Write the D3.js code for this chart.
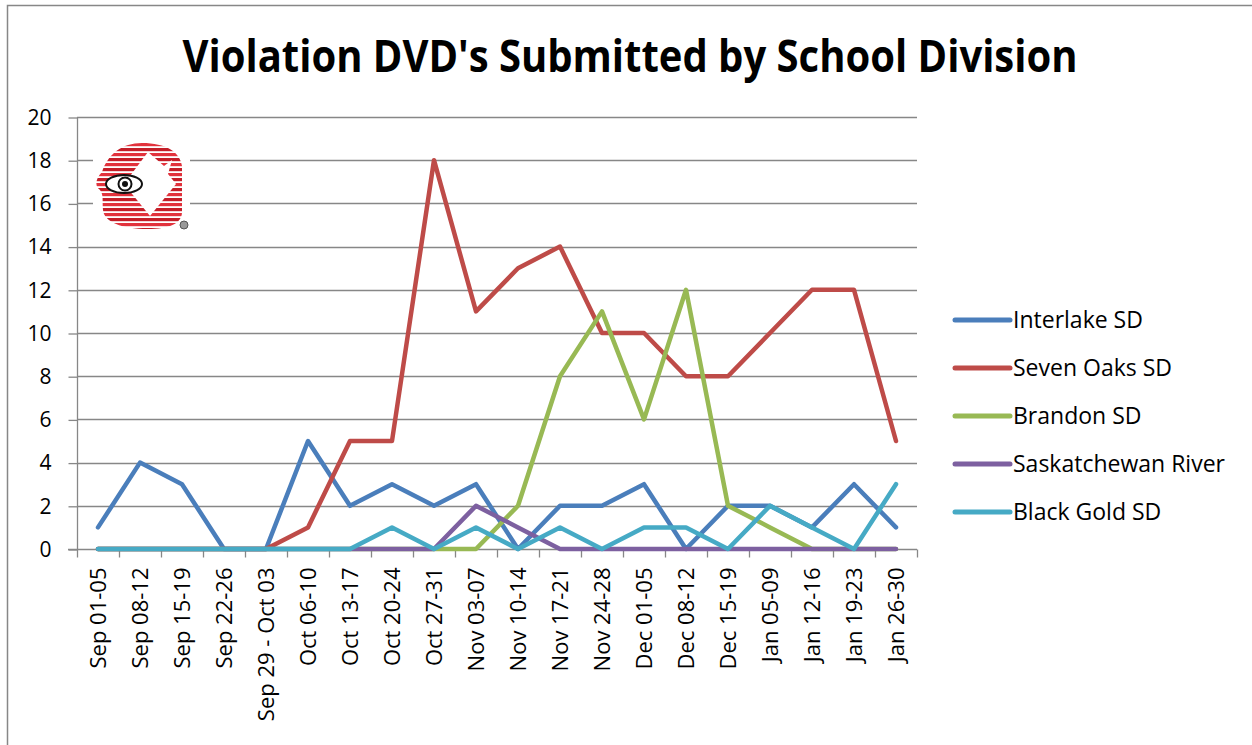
<!DOCTYPE html>
<html>
<head>
  <meta charset="utf-8">
  <title>Violation DVD's Submitted by School Division</title>
  <style>
    body { margin: 0; background: #fff; font-family: "Open Sans", Arial, sans-serif; }
    svg { display: block; }
  </style>
  <script src="https://d3js.org/d3.v7.min.js"></script>
</head>
<body>
  <svg id="chart" width="1252" height="745"></svg>
  <script>
    var weeks = ["Sep 01-05", "Sep 08-12", "Sep 15-19", "Sep 22-26", "Sep 29 - Oct 03",
                 "Oct 06-10", "Oct 13-17", "Oct 20-24", "Oct 27-31", "Nov 03-07",
                 "Nov 10-14", "Nov 17-21", "Nov 24-28", "Dec 01-05", "Dec 08-12",
                 "Dec 15-19", "Jan 05-09", "Jan 12-16", "Jan 19-23", "Jan 26-30"];

    var interlake    = [1, 4, 3, 0, 0, 5, 2, 3, 2, 3, 0, 2, 2, 3, 0, 2, 2, 1, 3, 1];
    var sevenOaks    = [0, 0, 0, 0, 0, 1, 5, 5, 18, 11, 13, 14, 10, 10, 8, 8, 10, 12, 12, 5];
    var brandon      = [0, 0, 0, 0, 0, 0, 0, 0, 0, 0, 2, 8, 11, 6, 12, 2, 1, 0, 0, 0];
    var saskatchewan = [0, 0, 0, 0, 0, 0, 0, 0, 0, 2, 1, 0, 0, 0, 0, 0, 0, 0, 0, 0];
    var blackGold    = [0, 0, 0, 0, 0, 0, 0, 1, 0, 1, 0, 1, 0, 1, 1, 0, 2, 1, 0, 3];

    var seriesNames = ["Interlake SD", "Seven Oaks SD", "Brandon SD", "Saskatchewan River", "Black Gold SD"];
    var yTicks = [0, 2, 4, 6, 8, 10, 12, 14, 16, 18, 20];

    var series = [
      { name: seriesNames[0], values: interlake, color: "#4a7ebb" },
      { name: seriesNames[1], values: sevenOaks, color: "#be4b48" },
      { name: seriesNames[2], values: brandon, color: "#98b954" },
      { name: seriesNames[3], values: saskatchewan, color: "#7d60a0" },
      { name: seriesNames[4], values: blackGold, color: "#46aac5" }
    ];

    var svg = d3.select("#chart");
    var gridColor = "#878787";

    // outer chart frame (right and bottom edges fall outside the picture)
    svg.append("rect")
        .attr("x", 7.5).attr("y", 5.5)
        .attr("width", 1300).attr("height", 800)
        .attr("fill", "none")
        .attr("stroke", gridColor)
        .attr("stroke-width", 1.5);

    svg.append("text")
        .attr("x", 630).attr("y", 72)
        .attr("text-anchor", "middle")
        .attr("font-size", 44)
        .attr("font-weight", "bold")
        .attr("textLength", 895)
        .attr("lengthAdjust", "spacingAndGlyphs")
        .text("Violation DVD's Submitted by School Division");

    var x = d3.scaleBand()
        .domain(weeks)
        .range([77, 917]);

    var y = d3.scaleLinear()
        .domain([0, 20])
        .range([549, 117]);

    var cx = d => x(d) + x.bandwidth() / 2;

    // gridlines
    svg.append("g")
      .selectAll("line")
      .data(yTicks.slice(1))
      .join("line")
        .attr("x1", 77).attr("x2", 917)
        .attr("y1", d => Math.round(y(d)) + 0.5)
        .attr("y2", d => Math.round(y(d)) + 0.5)
        .attr("stroke", gridColor)
        .attr("stroke-width", 1.3);

    // y axis
    var yAxis = svg.append("g")
        .attr("transform", "translate(77.5,0.5)")
        .call(d3.axisLeft(y).tickValues(yTicks).tickSize(9).tickPadding(17));
    yAxis.select(".domain").attr("stroke", gridColor).attr("stroke-width", 1.3)
        .attr("d", "M0," + Math.round(y(20)) + "V557");
    yAxis.selectAll(".tick line").attr("stroke", gridColor).attr("stroke-width", 1.3);
    yAxis.selectAll(".tick text")
        .attr("font-family", "'Open Sans', Arial, sans-serif")
        .attr("font-size", 21)
        .attr("fill", "#000");

    // x axis
    var xAxis = svg.append("g")
        .attr("transform", "translate(0," + (Math.round(y(0)) + 0.5) + ")");
    xAxis.append("line")
        .attr("x1", 68).attr("x2", 917)
        .attr("stroke", gridColor).attr("stroke-width", 1.3);
    xAxis.selectAll(".tk")
      .data(weeks)
      .join("line")
        .attr("class", "tk")
        .attr("x1", d => Math.round(x(d) + x.bandwidth()) + 0.5)
        .attr("x2", d => Math.round(x(d) + x.bandwidth()) + 0.5)
        .attr("y1", 0).attr("y2", 8)
        .attr("stroke", gridColor).attr("stroke-width", 1.3);
    xAxis.selectAll("text")
      .data(weeks)
      .join("text")
        .attr("transform", d => "translate(" + cx(d) + ",18) rotate(-90)")
        .attr("text-anchor", "end")
        .attr("dy", "0.35em")
        .attr("font-size", 22)
        .text(d => d);

    // logo
    var logo = svg.append("g");
    logo.append("rect")
        .attr("x", 93).attr("y", 140).attr("width", 97).attr("height", 91)
        .attr("fill", "#fff");
    var defs = svg.append("defs");
    defs.append("clipPath").attr("id", "logoClip")
      .append("path")
        .attr("d", "M142,143 C166,143 180,152 182,166 L182,212 C182,224 168,229 148,229 C122,229 104,222 103,210 C102,200 104,196 100,190 C94,186 96,178 102,172 C108,154 122,143 142,143 Z");
    var stripes = logo.append("g").attr("clip-path", "url(#logoClip)");
    stripes.selectAll("rect")
      .data(d3.range(143, 232, 5))
      .join("rect")
        .attr("x", 93).attr("y", d => d)
        .attr("width", 95).attr("height", 3.2)
        .attr("fill", (d, i) => i % 2 ? "#c41e28" : "#e2323c");
    logo.append("path")
        .attr("d", "M148,152 L164,166 L172,160 L168,174 L176,184 L150,216 L124,184 Z")
        .attr("fill", "#fff");
    logo.append("ellipse")
        .attr("cx", 124).attr("cy", 184).attr("rx", 18).attr("ry", 9)
        .attr("fill", "#fff").attr("stroke", "#111").attr("stroke-width", 2);
    logo.append("circle")
        .attr("cx", 125).attr("cy", 184).attr("r", 6.5)
        .attr("fill", "#fff").attr("stroke", "#111").attr("stroke-width", 2);
    logo.append("circle")
        .attr("cx", 125).attr("cy", 184).attr("r", 3)
        .attr("fill", "#111");
    logo.append("circle")
        .attr("cx", 184).attr("cy", 225).attr("r", 4)
        .attr("fill", "#999").attr("stroke", "#555").attr("stroke-width", 1);

    // lines
    var line = d3.line()
        .x((d, i) => cx(weeks[i]))
        .y(d => y(d));

    svg.append("g")
      .selectAll("path")
      .data(series)
      .join("path")
        .attr("d", d => line(d.values))
        .attr("fill", "none")
        .attr("stroke", d => d.color)
        .attr("stroke-width", 4.5)
        .attr("stroke-linejoin", "round")
        .attr("stroke-linecap", "round");

    // legend
    var legend = svg.append("g")
      .selectAll("g")
      .data(series)
      .join("g")
        .attr("transform", (d, i) => "translate(955," + (320 + i * 48) + ")");
    legend.append("line")
        .attr("x1", 0).attr("x2", 55)
        .attr("stroke", d => d.color)
        .attr("stroke-width", 5)
        .attr("stroke-linecap", "round");
    legend.append("text")
        .attr("x", 58)
        .attr("dy", "0.35em")
        .attr("font-size", 23)
        .text(d => d.name);
  </script>
</body>
</html>
